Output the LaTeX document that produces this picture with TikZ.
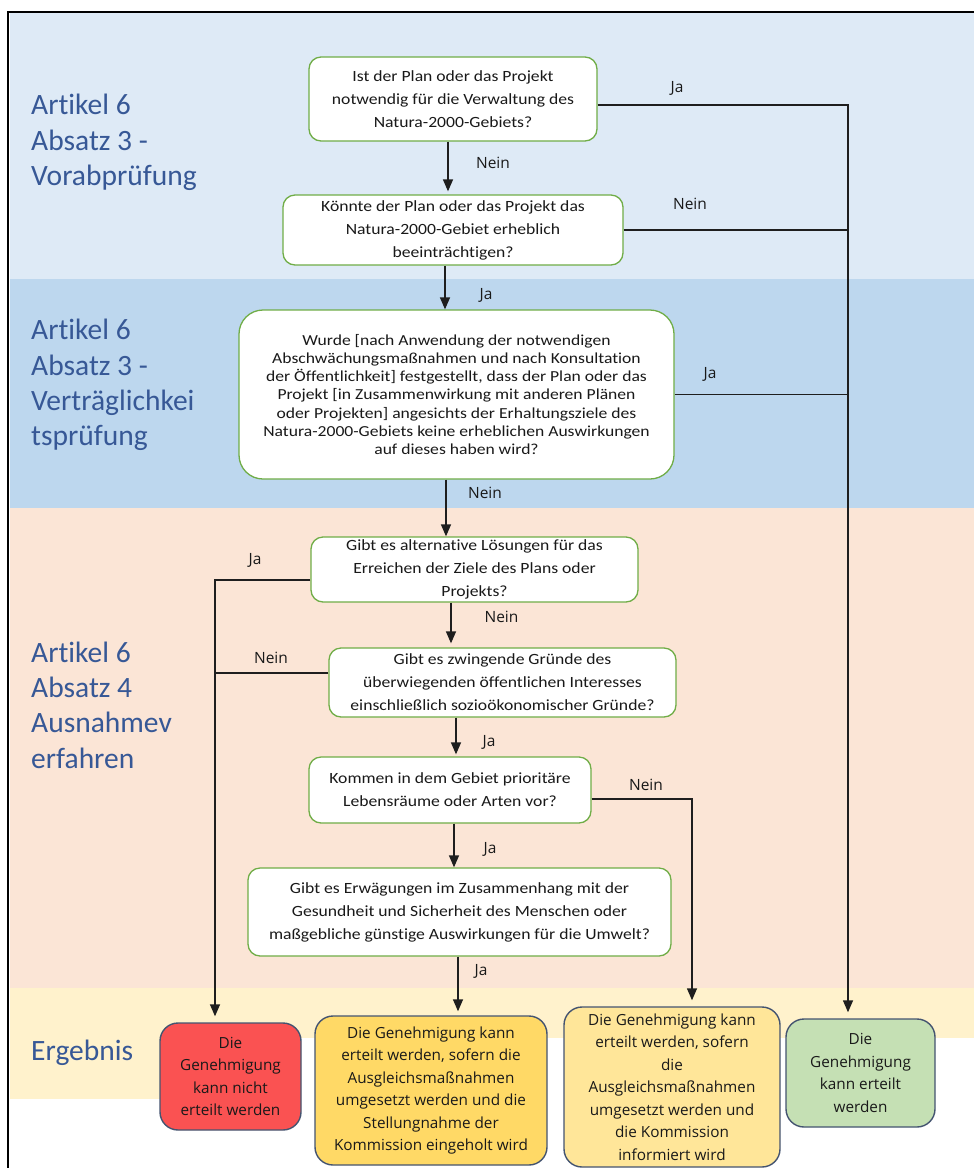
\documentclass[tikz,border=0pt]{standalone}
\usepackage{fontspec}
\setmainfont{Carlito}[Ligatures=NoCommon]
\newfontfamily\qfont{Carlito}[Ligatures=NoCommon,FakeStretch=1.13]
\newfontfamily\qbigfont{Carlito}[Ligatures=NoCommon,FakeStretch=1.15]
\newfontfamily\osans{Open Sans}
\usetikzlibrary{arrows.meta}
\definecolor{bandA}{RGB}{222,234,246}
\definecolor{bandB}{RGB}{189,215,238}
\definecolor{bandC}{RGB}{251,229,214}
\definecolor{bandD}{RGB}{255,242,204}
\definecolor{secblue}{RGB}{55,88,150}
\definecolor{qgreen}{RGB}{112,173,71}
\definecolor{rborder}{RGB}{68,84,112}
\definecolor{rred}{RGB}{250,82,82}
\definecolor{rorange}{RGB}{255,217,102}
\definecolor{ryellow}{RGB}{255,230,153}
\definecolor{rgreen}{RGB}{197,224,180}
\definecolor{lncol}{RGB}{30,30,30}
\definecolor{txt}{RGB}{25,25,25}
\begin{document}
\begin{tikzpicture}[x=1pt,y=-1pt,
  qbox/.style={draw=qgreen, line width=1.3pt, fill=white, rounded corners=12pt,
    align=center, inner sep=0pt, text=txt, font=\qfont\fontsize{15.6}{23}\selectfont},
  qbig/.style={qbox, rounded corners=24pt, font=\qbigfont\fontsize{15.3}{18.3}\selectfont},
  rbox/.style={draw=rborder, line width=1.4pt, rounded corners=18pt,
    align=center, inner sep=0pt, text=txt, font=\osans\fontsize{15.3}{22.5}\selectfont},
  sec/.style={anchor=west, align=left, text=secblue, inner sep=0pt,
    font=\fontsize{29.5}{35.3}\selectfont},
  lab/.style={inner sep=0pt, text=txt, font=\osans\fontsize{15.5}{17}\selectfont},
  ln/.style={draw=lncol, line width=1.4pt},
  arr/.style={ln, -{Triangle[width=10pt,length=12pt]}},
  rarr/.style={arr, shorten >=6pt}
]
\useasboundingbox (0,0) rectangle (974,1168);
\fill[white] (0,0) rectangle (974,1168);
% bands
\fill[bandA] (10,12) rectangle (974,279);
\fill[bandB] (10,279) rectangle (974,508);
\fill[bandC] (10,508) rectangle (974,988);
\fill[bandD] (10,988) rectangle (974,1038);
\fill[bandD] (10,1038) rectangle (165,1099);
\draw[line width=2pt, black] (8,1168) -- (8,11.5) -- (974,11.5);

% section labels
\node[sec] (s1) at (31,142.5) {Artikel 6\\Absatz 3 -\\Vorabprüfung};
\node[sec] (s2) at (31,385) {Artikel 6\\Absatz 3 -\\Verträglichkei\\tsprüfung};
\node[sec] (s3) at (31,705) {Artikel 6\\Absatz 4\\Ausnahmev\\erfahren};
\node[sec] (s4) at (31,1053) {Ergebnis};

% question boxes
\node[qbox, minimum width=288pt, minimum height=84pt] (q1) at (453,99)
  {Ist der Plan oder das Projekt\\notwendig für die Verwaltung des\\Natura-2000-Gebiets?};
\node[qbox, minimum width=340pt, minimum height=70pt] (q2) at (453,230)
  {Könnte der Plan oder das Projekt das\\Natura-2000-Gebiet erheblich\\beeinträchtigen?};
\node[qbig, minimum width=435pt, minimum height=169pt] (q3) at (456.5,394.5)
  {Wurde [nach Anwendung der notwendigen\\Abschwächungsmaßnahmen und nach Konsultation\\der Öffentlichkeit] festgestellt, dass der Plan oder das\\Projekt [in Zusammenwirkung mit anderen Plänen\\oder Projekten] angesichts der Erhaltungsziele des\\Natura-2000-Gebiets keine erheblichen Auswirkungen\\auf dieses haben wird?};
\node[qbox, minimum width=327pt, minimum height=65pt] (q4) at (474.5,569.5)
  {Gibt es alternative Lösungen für das\\Erreichen der Ziele des Plans oder\\Projekts?};
\node[qbox, minimum width=347pt, minimum height=69pt] (q5) at (502.5,682.5)
  {Gibt es zwingende Gründe des\\überwiegenden öffentlichen Interesses\\einschließlich sozioökonomischer Gründe?};
\node[qbox, minimum width=282pt, minimum height=66pt] (q6) at (450,790)
  {Kommen in dem Gebiet prioritäre\\Lebensräume oder Arten vor?};
\node[qbox, minimum width=423pt, minimum height=88pt] (q7) at (459.5,912)
  {Gibt es Erwägungen im Zusammenhang mit der\\Gesundheit und Sicherheit des Menschen oder\\maßgebliche günstige Auswirkungen für die Umwelt?};

% result boxes
\node[rbox, fill=rred, minimum width=141pt, minimum height=107pt] (r1) at (230.5,1076.5)
  {Die\\Genehmigung\\kann nicht\\erteilt werden};
\node[rbox, fill=rorange, minimum width=232pt, minimum height=149pt] (r2) at (431,1090.5)
  {Die Genehmigung kann\\erteilt werden, sofern die\\Ausgleichsmaßnahmen\\umgesetzt werden und die\\Stellungnahme der\\Kommission eingeholt wird};
\node[rbox, fill=ryellow, minimum width=216pt, minimum height=160pt] (r3) at (672,1087)
  {Die Genehmigung kann\\erteilt werden, sofern\\die\\Ausgleichsmaßnahmen\\umgesetzt werden und\\die Kommission\\informiert wird};
\node[rbox, fill=rgreen, minimum width=149pt, minimum height=108pt] (r4) at (860.5,1073)
  {Die\\Genehmigung\\kann erteilt\\werden};

% connector columns
\coordinate (vR) at (848,0);
\coordinate (vL) at (215,0);
\coordinate (vM) at (692,0);
\coordinate (x1) at (448,0);
\coordinate (x2) at (445,0);
\coordinate (x3) at (446,0);
\coordinate (x4) at (451,0);
\coordinate (x5) at (456,0);
\coordinate (x6) at (454,0);
\coordinate (x7) at (458,0);

% vertical flow
\draw[arr, shorten >=3pt] (q1.south -| x1) -- (q2.north -| x1);
\draw[arr] (q2.south -| x2) -- (q3.north -| x2);
\draw[arr] (q3.south -| x3) -- (q4.north -| x3);
\draw[arr, shorten >=4pt] (q4.south -| x4) -- (q5.north -| x4);
\draw[arr, shorten >=2pt] (q5.south -| x5) -- (q6.north -| x5);
\draw[arr] (q6.south -| x6) -- (q7.north -| x6);
\draw[rarr, shorten >=4pt] (q7.south -| x7) -- (r2.north -| x7);

% right branch
\draw[rarr] ([yshift=-6pt]q1.east) -| (vR |- r4.north);
\draw[ln] (q2.east) -- (q2.east -| vR);
\draw[ln] (q3.east) -- (q3.east -| vR);

% left branch
\draw[rarr] ([yshift=-10.5pt]q4.west) -| (vL |- r1.north);
\draw[ln] ([yshift=9.5pt]q5.west) -- ([yshift=9.5pt]q5.west -| vL);

% middle branch
\draw[rarr] ([yshift=-9pt]q6.east) -| (vM |- r3.north);

% labels
\node[lab] (l1) at (677,88) {Ja};
\node[lab] (l2) at (493,163) {Nein};
\node[lab] (l3) at (690,204) {Nein};
\node[lab] (l4) at (486,295) {Ja};
\node[lab] (l5) at (710,374) {Ja};
\node[lab] (l6) at (485,493) {Nein};
\node[lab] (l7) at (255,560) {Ja};
\node[lab] (l8) at (501.5,617) {Nein};
\node[lab] (l9) at (271,658) {Nein};
\node[lab] (l10) at (489,742) {Ja};
\node[lab] (l11) at (646,785) {Nein};
\node[lab] (l12) at (490,849) {Ja};
\node[lab] (l13) at (481,971) {Ja};
\end{tikzpicture}
\end{document}
